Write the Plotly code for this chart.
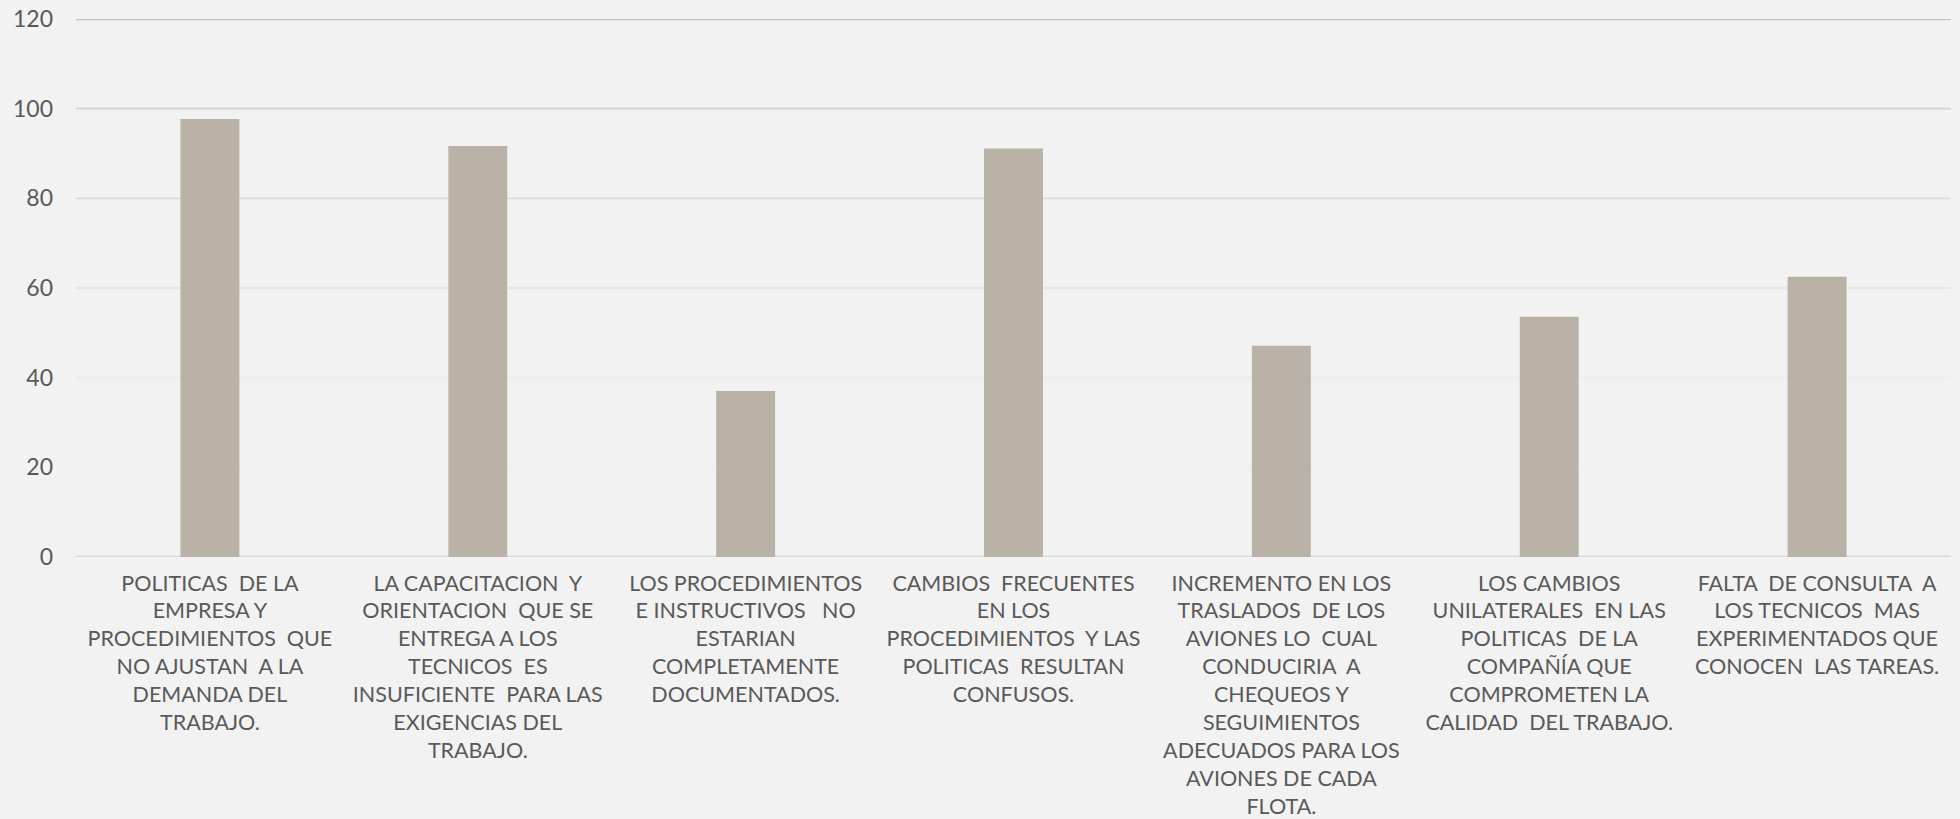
import plotly.graph_objects as go

categories = [
    "POLITICAS  DE LA<br>EMPRESA Y<br>PROCEDIMIENTOS  QUE<br>NO AJUSTAN  A LA<br>DEMANDA DEL<br>TRABAJO.",
    "LA CAPACITACION  Y<br>ORIENTACION  QUE SE<br>ENTREGA A LOS<br>TECNICOS  ES<br>INSUFICIENTE  PARA LAS<br>EXIGENCIAS DEL<br>TRABAJO.",
    "LOS PROCEDIMIENTOS<br>E INSTRUCTIVOS   NO<br>ESTARIAN<br>COMPLETAMENTE<br>DOCUMENTADOS.",
    "CAMBIOS  FRECUENTES<br>EN LOS<br>PROCEDIMIENTOS  Y LAS<br>POLITICAS  RESULTAN<br>CONFUSOS.",
    "INCREMENTO EN LOS<br>TRASLADOS  DE LOS<br>AVIONES LO  CUAL<br>CONDUCIRIA  A<br>CHEQUEOS Y<br>SEGUIMIENTOS<br>ADECUADOS PARA LOS<br>AVIONES DE CADA<br>FLOTA.",
    "LOS CAMBIOS<br>UNILATERALES  EN LAS<br>POLITICAS  DE LA<br>COMPAÑÍA QUE<br>COMPROMETEN LA<br>CALIDAD  DEL TRABAJO.",
    "FALTA  DE CONSULTA  A<br>LOS TECNICOS  MAS<br>EXPERIMENTADOS QUE<br>CONOCEN  LAS TAREAS.",
]
values = [97.7, 91.7, 37.0, 91.1, 47.1, 53.6, 62.5]
y_ticks = [0, 20, 40, 60, 80, 100, 120]
grid_colors = ["#d9d9d9", "#efefef", "#ececec", "#e6e6e6", "#dcdcdc", "#d3d3d3", "#c4c4c4"]

FONT = "Lato, sans-serif"
TEXT = "#595959"

fig = go.Figure()
fig.add_trace(go.Bar(
    x=categories, y=values,
    marker=dict(color="#bab2a6", line=dict(width=0)),
    width=0.22,
))

shapes = []
for t, c in zip(y_ticks, grid_colors):
    shapes.append(dict(type="line", xref="paper", yref="y", x0=0, x1=1, y0=t, y1=t,
                       line=dict(color=c, width=2.4 if t in (0, 120) else 1.8), layer="below"))

fig.update_layout(
    width=1960, height=819,
    paper_bgcolor="#f2f2f2", plot_bgcolor="#f2f2f2",
    margin=dict(l=76, r=9, t=19, b=262),
    showlegend=False,
    shapes=shapes,
    font=dict(family=FONT, color=TEXT, size=21.5),
)
fig.update_xaxes(showgrid=False, showline=False, ticks="", tickangle=0,
                 ticklabelstandoff=11, automargin=False,
                 tickfont=dict(family=FONT, size=21.5, color=TEXT))
fig.update_yaxes(range=[0, 120], tickvals=y_ticks, showgrid=False, zeroline=False,
                 showline=False, ticks="", ticklabelstandoff=22, automargin=False,
                 tickfont=dict(family=FONT, size=23, color=TEXT))

fig.write_html("out.html", config={"displayModeBar": False},
               post_script="document.body.style.margin='0';document.body.style.overflow='hidden';")
